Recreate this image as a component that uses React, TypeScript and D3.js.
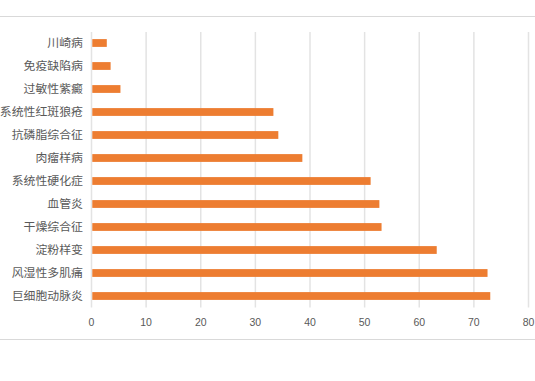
import React from "react";
import * as d3 from "d3";

const categories = [
  "川崎病",
  "免疫缺陷病",
  "过敏性紫癜",
  "系统性红斑狼疮",
  "抗磷脂综合征",
  "肉瘤样病",
  "系统性硬化症",
  "血管炎",
  "干燥综合征",
  "淀粉样变",
  "风湿性多肌痛",
  "巨细胞动脉炎",
];
const values = [2.8, 3.5, 5.3, 33.3, 34.2, 38.6, 51.1, 52.7, 53.1, 63.2, 72.5, 73.0];
const xTicks = [0, 10, 20, 30, 40, 50, 60, 70, 80];

const W = 535;
const H = 381;

export default function App() {
  const x = d3.scaleLinear().domain([0, 80]).range([91.5, 528.5]);
  const y = d3.scaleBand<string>().domain(categories).range([31.5, 307.5]).paddingInner(0.66).paddingOuter(0.33);
  const bh = 7.8;
  const catFont = '"Noto Sans CJK SC", sans-serif';
  return (
    <div style={{ position: "absolute", left: 0, top: 0 }}>
      <svg width={W} height={H} style={{ display: "block", background: "#fff" }}>
        <line x1={0} x2={W} y1={16.5} y2={16.5} stroke="#d9d9d9" strokeWidth={1} />
        <line x1={0} x2={W} y1={339.5} y2={339.5} stroke="#d9d9d9" strokeWidth={1} />
        {xTicks.map((t) => (
          <line key={"g" + t} x1={x(t)} x2={x(t)} y1={32} y2={307.5} stroke="#e3e3e3" strokeWidth={1.5} />
        ))}
        {categories.map((c, i) => {
          const cy = (y(c) as number) + y.bandwidth() / 2;
          return (
            <g key={c}>
              <rect x={x(0) + 0.8} y={cy - bh / 2} width={x(values[i]) - x(0) - 0.8} height={bh} fill="#ED7D31" />
              <text x={83} y={cy} dy="0.36em" textAnchor="end" fontSize={11.9} fill="#595959" fontFamily={catFont}>
                {c}
              </text>
            </g>
          );
        })}
        {xTicks.map((t) => (
          <text key={"t" + t} x={x(t)} y={322} dy="0.35em" textAnchor="middle" fontSize={10.5} fill="#595959" fontFamily="'Liberation Sans', Arial, sans-serif">
            {t}
          </text>
        ))}
      </svg>
    </div>
  );
}
